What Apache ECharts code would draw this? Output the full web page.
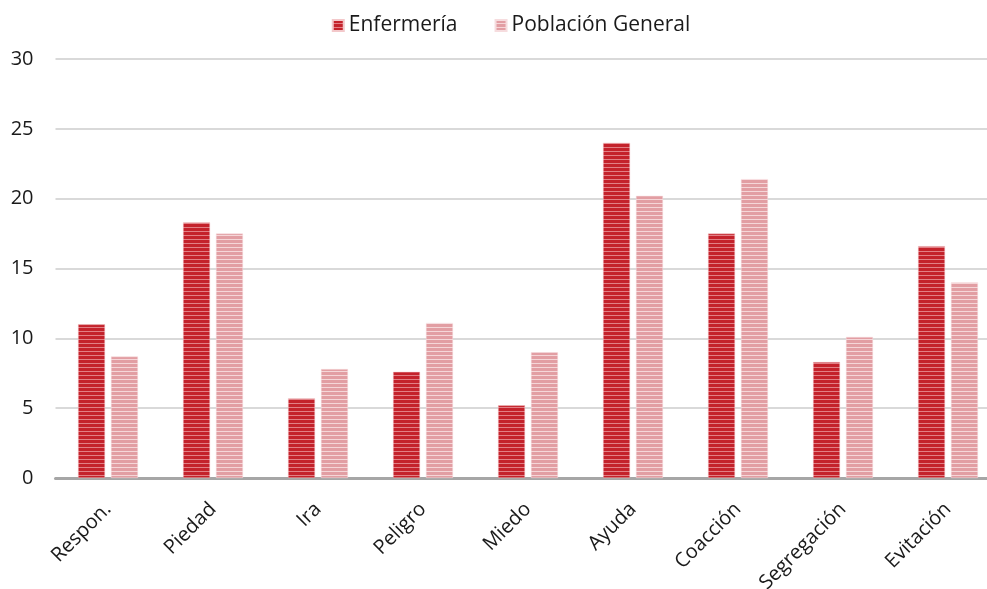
<!DOCTYPE html>
<html><head><meta charset="utf-8">
<script src="https://cdn.jsdelivr.net/npm/echarts@6/dist/echarts.min.js"></script>
<style>html,body{margin:0;padding:0;background:#fff;overflow:hidden;width:987px;height:589px}
#wrap{position:relative;width:987px;height:589px;overflow:hidden}
#c{position:absolute;left:0;top:0;width:1022px;height:589px}</style>
</head><body><div id="wrap"><div id="c"></div></div>
<script>
const categories = ['Respon.', 'Piedad', 'Ira', 'Peligro', 'Miedo', 'Ayuda', 'Coacción', 'Segregación', 'Evitación'];
const enfermeria = [11.0, 18.3, 5.7, 7.6, 5.2, 24.0, 17.5, 8.3, 16.6];
const poblacion = [8.7, 17.5, 7.8, 11.1, 9.0, 20.2, 21.4, 10.1, 14.0];
const yTicks = [0, 5, 10, 15, 20, 25, 30];

function stripes(main, light) {
  const c = document.createElement('canvas');
  c.width = 4; c.height = 4;
  const g = c.getContext('2d');
  g.fillStyle = main; g.fillRect(0, 0, 4, 4);
  g.fillStyle = light; g.fillRect(0, 3, 4, 1);
  return { image: c, repeat: 'repeat' };
}
const font = '"Open Sans", Lato, sans-serif';
const chart = echarts.init(document.getElementById('c'));
chart.setOption({
  animation: false,
  textStyle: { fontFamily: font },
  legend: {
    top: 10, left: 'center', itemWidth: 11, itemHeight: 11, itemGap: 37,
    icon: 'rect',
    textStyle: { fontSize: 21, color: '#1a1a1a', fontFamily: font },
    data: ['Enfermería', 'Población General']
  },
  grid: { left: 55.5, right: 21.5, top: 59, bottom: 111, containLabel: false, outerBoundsMode: 'none' },
  xAxis: {
    type: 'category', data: categories,
    axisLine: { lineStyle: { color: '#a6a6a6', width: 3 } },
    axisTick: { show: false },
    axisLabel: { rotate: 45, fontSize: 20, color: '#1a1a1a', margin: 28, fontFamily: font, interval: 0 }
  },
  yAxis: {
    type: 'value', min: yTicks[0], max: yTicks[yTicks.length - 1], interval: 5,
    axisLine: { show: false }, axisTick: { show: false },
    splitLine: { lineStyle: { color: '#d9d9d9', width: 2 } },
    axisLabel: { fontSize: 20, color: '#1a1a1a', margin: 22, fontFamily: font }
  },
  series: [
    { name: 'Enfermería', type: 'bar', data: enfermeria, barWidth: 27, barGap: '22%',
      itemStyle: { color: stripes('#c4222b', '#e27f85'), borderColor: '#f3c8ca', borderWidth: 0.5 } },
    { name: 'Población General', type: 'bar', data: poblacion, barWidth: 27,
      itemStyle: { color: stripes('#e29ea3', '#f5d6d8'), borderColor: '#f6dcde', borderWidth: 0.5 } }
  ]
});
</script></body></html>
